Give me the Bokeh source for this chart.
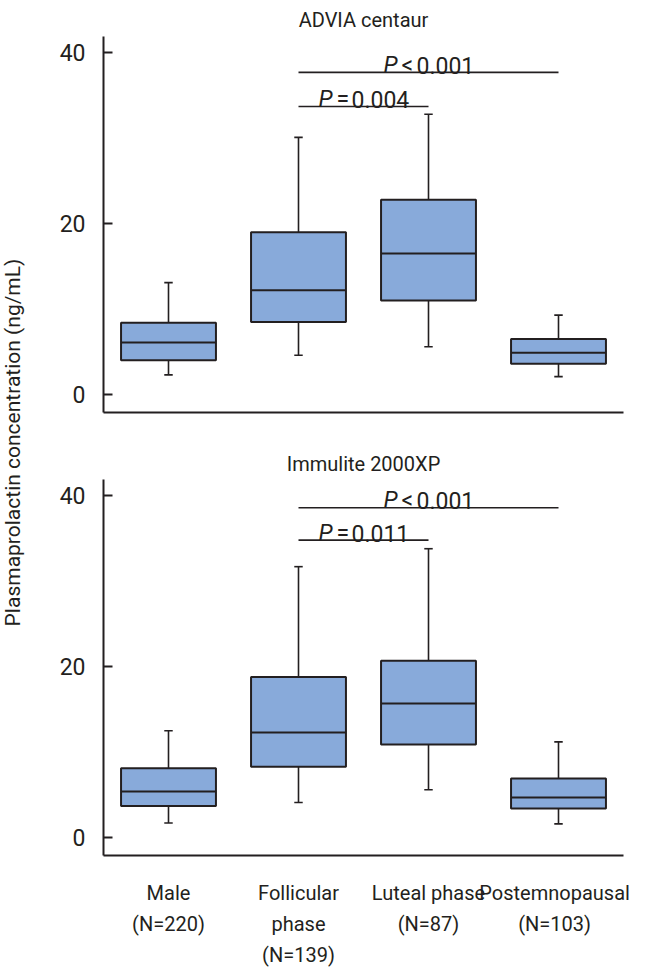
import numpy as np
from bokeh.plotting import figure
from bokeh.models import Range1d, FixedTicker
from bokeh.layouts import row, column
from bokeh.core.properties import value
from bokeh.embed import file_html
from bokeh.resources import INLINE

# ---------------- data ----------------
categories = ["Male", "Follicular phase", "Luteal phase", "Postemnopausal"]
x_tick_labels = ["Male\n(N=220)", "Follicular\nphase\n(N=139)", "Luteal phase\n(N=87)", "Postemnopausal\n(N=103)"]

advia_lower = [2.3, 4.6, 5.6, 2.1]
advia_q1 = [4.0, 8.5, 11.0, 3.6]
advia_median = [6.1, 12.2, 16.5, 4.9]
advia_q3 = [8.4, 19.0, 22.8, 6.5]
advia_upper = [13.1, 30.1, 32.8, 9.3]

immulite_lower = [1.7, 4.1, 5.6, 1.6]
immulite_q1 = [3.7, 8.3, 10.9, 3.4]
immulite_median = [5.4, 12.3, 15.7, 4.7]
immulite_q3 = [8.1, 18.8, 20.7, 6.9]
immulite_upper = [12.5, 31.7, 33.8, 11.2]

# comparisons: (from category index, to category index, bracket height, operator, p value)
advia_pairs = [(1, 3, 37.7, "<", "0.001"), (1, 2, 33.7, "=", "0.004")]
immulite_pairs = [(1, 3, 38.6, "<", "0.001"), (1, 2, 34.8, "=", "0.011")]

y_ticks = [0, 20, 40]
y_label = "Plasmaprolactin concentration (ng/mL)"

# ---------------- style ----------------
FONT = "Roboto"
INK = "#231F20"
FILL = "#88AADA"
BOX_W = 0.73
CAP_W = 0.065
TICK_SHIFT = [0.0, 0.0, 0.0, -0.03]


def make_panel(title, lower, q1, med, q3, upper, pairs, show_x, top_border, bottom_border, standoff):
    p = figure(frame_width=520, frame_height=376,
               x_range=Range1d(0, 4), y_range=Range1d(-2.1, 41.9),
               output_backend="svg", toolbar_location=None,
               min_border_left=75, min_border_right=8,
               min_border_top=top_border, min_border_bottom=bottom_border)
    p.outline_line_color = None
    p.xgrid.visible = False
    p.ygrid.visible = False
    p.background_fill_color = "white"
    p.border_fill_color = "white"

    p.title.text = title
    p.title.align = "center"
    p.title.text_font = FONT
    p.title.text_font_size = "20px"
    p.title.text_font_style = "normal"
    p.title.text_color = INK
    p.title.standoff = standoff

    xs = np.arange(len(categories)) + 0.5
    lower = np.array(lower); q1 = np.array(q1); med = np.array(med)
    q3 = np.array(q3); upper = np.array(upper)

    # whiskers
    p.segment(x0=xs, x1=xs, y0=q3, y1=upper, line_color=INK, line_width=1.6)
    p.segment(x0=xs, x1=xs, y0=q1, y1=lower, line_color=INK, line_width=1.6)
    p.segment(x0=xs - CAP_W / 2, x1=xs + CAP_W / 2, y0=upper, y1=upper, line_color=INK, line_width=1.6)
    p.segment(x0=xs - CAP_W / 2, x1=xs + CAP_W / 2, y0=lower, y1=lower, line_color=INK, line_width=1.6)
    # boxes
    p.vbar(x=xs, width=BOX_W, bottom=q1, top=q3, fill_color=FILL, line_color=INK, line_width=2)
    p.segment(x0=xs - BOX_W / 2, x1=xs + BOX_W / 2, y0=med, y1=med, line_color=INK, line_width=2)

    # significance brackets
    for i0, i1, h, op, pv in pairs:
        xa, xb = xs[i0], xs[i1]
        p.segment(x0=[xa], x1=[xb], y0=[h], y1=[h], line_color=INK, line_width=1.6)
        mid = (xa + xb) / 2
        common = dict(text_font=value(FONT), text_font_size="23px", text_color=INK,
                      text_baseline="alphabetic", y_offset=-7)
        p.text(x=[mid], y=[h], text=["P"], text_font_style="italic", text_align="right",
               x_offset=-31, **common)
        p.text(x=[mid], y=[h], text=[op], text_align="left", x_offset=-27, **common)
        p.text(x=[mid], y=[h], text=[pv], text_align="left", x_offset=-12, **common)

    # y axis
    ya = p.yaxis[0]
    ya.ticker = FixedTicker(ticks=y_ticks)
    ya.minor_tick_line_color = None
    ya.major_tick_in = 9
    ya.major_tick_out = 0
    ya.major_tick_line_width = 2
    ya.major_tick_line_color = INK
    ya.axis_line_width = 2
    ya.axis_line_color = INK
    ya.major_label_text_font = FONT
    ya.major_label_text_font_size = "23px"
    ya.major_label_text_color = INK
    ya.major_label_standoff = 18

    xa_ = p.xaxis[0]
    xa_.axis_line_width = 2
    xa_.axis_line_color = INK
    xa_.minor_tick_line_color = None
    xa_.major_tick_line_color = None
    if show_x:
        tick_pos = [float(x + s) for x, s in zip(xs, TICK_SHIFT)]
        xa_.ticker = FixedTicker(ticks=tick_pos)
        xa_.major_label_overrides = {t: lab for t, lab in zip(tick_pos, x_tick_labels)}
        xa_.major_label_text_font = FONT
        xa_.major_label_text_font_size = "20px"
        xa_.major_label_text_line_height = 1.3
        xa_.major_label_text_color = INK
        xa_.major_label_standoff = 19
    else:
        xa_.ticker = FixedTicker(ticks=[])
        xa_.major_label_text_font_size = "0px"
    return p


top = make_panel("ADVIA centaur", advia_lower, advia_q1, advia_median, advia_q3, advia_upper,
                 advia_pairs, False, 0, 28, 10)
bottom = make_panel("Immulite 2000XP", immulite_lower, immulite_q1, immulite_median, immulite_q3,
                    immulite_upper, immulite_pairs, True, 39, 96, 8)

H = 34 + 376 + 28 + 39 + 376 + 96
lab = figure(width=28, height=H, x_range=Range1d(0, 28), y_range=Range1d(0, H),
             output_backend="svg", toolbar_location=None, min_border=0)
lab.axis.visible = False
lab.grid.visible = False
lab.outline_line_color = None
lab.text(x=[12], y=[H - 442], text=[y_label], angle=np.pi / 2, text_font=value(FONT),
         text_font_size="21px", text_color=INK, text_align="center", text_baseline="middle")

layout = row(lab, column(top, bottom, spacing=0), spacing=0)

open("out.html", "w").write(file_html(layout, INLINE))
